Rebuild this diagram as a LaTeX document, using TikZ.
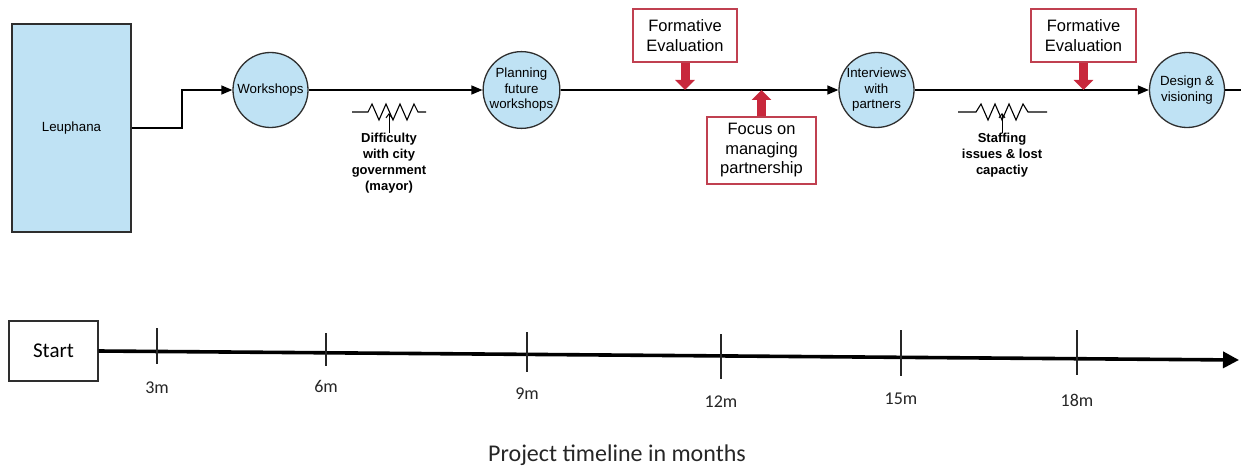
\documentclass[tikz,border=0pt]{standalone}
\usepackage{fontspec}
\setmainfont{Liberation Sans}
\newfontfamily\calibri{Carlito}
\usetikzlibrary{arrows.meta}
\definecolor{stageblue}{HTML}{BFE2F4}
\definecolor{stageline}{HTML}{2E2E2E}
\definecolor{evalred}{HTML}{C8283C}
\definecolor{evalframe}{HTML}{C04050}
\tikzset{
  stage/.style={circle, draw=stageline, line width=1.3pt, fill=stageblue,
    minimum size=75pt, inner sep=0pt, align=center, font=\fontsize{13.3}{15.5}\selectfont},
  orgbox/.style={rectangle, draw=stageline, line width=1.3pt, fill=stageblue,
    minimum width=119pt, minimum height=208pt, font=\fontsize{13.3}{15.5}\selectfont},
  flow/.style={draw=black, line width=1.3pt, -{Triangle[length=11pt,width=9pt]}},
  evalbox/.style={rectangle, draw=evalframe, line width=1.3pt, fill=white,
    inner sep=0pt, align=center, font=\fontsize{16.5}{19.5}\selectfont},
  evalarrow/.style={draw=evalred, line width=9pt, -{Triangle[length=10pt,width=19pt]}},
  resist/.style={draw=black, line width=1.1pt, line join=miter},
  hurdle/.style={align=center, font=\bfseries\fontsize{13}{16}\selectfont, inner sep=0pt},
  hurdlearrow/.style={draw=black, line width=1pt, -{Straight Barb[length=4pt,width=6pt]}},
  startbox/.style={rectangle, draw=stageline, line width=1.2pt, minimum width=89pt,
    minimum height=60pt, font=\calibri\fontsize{21}{24}\selectfont},
  timeline/.style={draw=black, line width=3.6pt, -{Triangle[length=16pt,width=16pt]}},
  tick/.style={draw=black!85, line width=1.2pt},
  month/.style={text=black!85, font=\calibri\fontsize{18}{20}\selectfont, inner sep=0pt}
}
\begin{document}
\begin{tikzpicture}[x=1pt, y=-1pt]
\useasboundingbox[fill=white] (0,0) rectangle (1241,468);

% --- process stages ---
\node[orgbox] (leu) at (71.5,128) {Leuphana};
\node[stage] (wk) at (270.5,90) {Workshops};
\node[stage] (plan) at (521.5,90) {Planning\\future\\workshops};
\node[stage] (intv) at (876.5,90) {Interviews\\with\\partners};
\node[stage] (des) at (1187,90) {Design \&\\visioning};

\coordinate (bend) at (182,128);
\draw[flow] (leu.east |- bend) -- (bend) |- (wk.west);
\draw[flow] (wk) -- (plan);
\draw[flow] (plan) -- (intv);
\draw[flow] (intv) -- (des);
\coordinate (offedge) at (1252,90);
\begin{scope}
  \clip (0,0) rectangle (1241,468);
  \draw[flow] (des) -- (offedge);
\end{scope}

% --- evaluation points ---
\node[evalbox, minimum width=104pt, minimum height=53pt] (fe1) at (685,35.5) {Formative\\Evaluation};
\node[evalbox, minimum width=105pt, minimum height=53pt] (fe2) at (1083.5,35.5) {Formative\\Evaluation};
\node[evalbox, minimum width=109pt, minimum height=67pt] (foc) at (761.5,150.5) {Focus on\\managing\\partnership};
\draw[evalarrow] (fe1.south) -- (fe1.south |- wk.east);
\draw[evalarrow] (fe2.south) -- (fe2.south |- wk.east);
\draw[evalarrow] (foc.north) -- (foc.north |- wk.east);

% --- resistances along the way ---
\draw[resist] (352,112) -- (368,112) -- (372,104) -- (379,120) -- (386,104) -- (393,120)
  -- (400,104) -- (407,120) -- (414,104) -- (418,112) -- (426,112);
\coordinate (r1) at (389,113);
\node[hurdle, anchor=north] (h1) at (389,133) {Difficulty\\with city\\government\\(mayor)};
\draw[hurdlearrow] (h1.north) -- (r1);

\draw[resist] (958,112) -- (976,112) -- (981,104) -- (988,120) -- (995,104) -- (1002,120)
  -- (1009,104) -- (1016,120) -- (1023,104) -- (1028,112) -- (1047,112);
\coordinate (r2) at (1002,113);
\node[hurdle, anchor=north] (h2) at (1002,133) {Staffing\\issues \& lost\\capactiy};
\draw[hurdlearrow] (h2.north) -- (r2);

% --- time axis ---
\node[startbox] (start) at (53.5,351) {Start};
\coordinate (tend) at (1239,360);
\draw[timeline] (start.east) -- (tend);
\foreach \x/\ya/\yb/\yl/\lab in {157/328/364/388/3m, 326/333/366/386/6m,
    527/332/372/394/9m, 721/334/379/402/12m, 901/330/376/399/15m, 1077/330/375/400/18m}{
  \draw[tick] (\x,\ya) -- (\x,\yb);
  \node[month] at (\x,\yl) {\lab};
}
\node[text=black!85, font=\calibri\fontsize{24}{27}\selectfont] (cap) at (617,455) {Project timeline in months};
\end{tikzpicture}
\end{document}
